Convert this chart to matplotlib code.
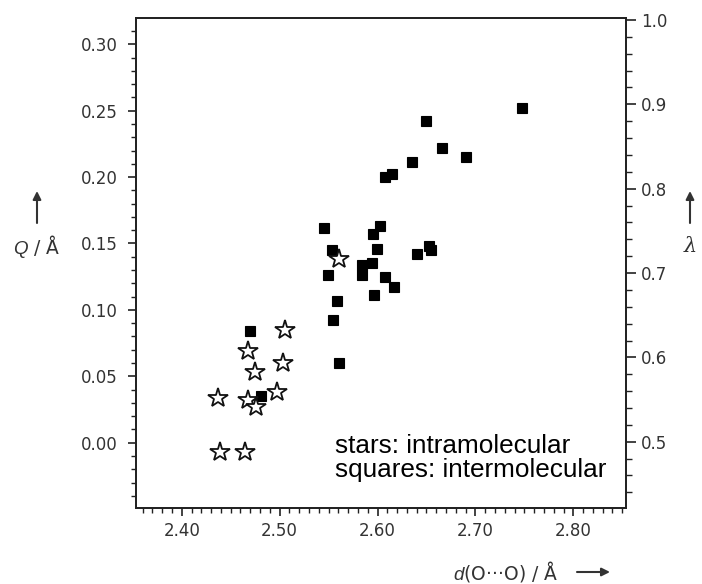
import matplotlib
matplotlib.use("Agg")
import matplotlib.pyplot as plt
from matplotlib.ticker import MultipleLocator, FixedLocator, FixedFormatter

plt.rcParams['font.family'] = ['DejaVu Sans']
plt.rcParams['mathtext.fontset'] = 'custom'
plt.rcParams['mathtext.rm'] = 'Liberation Sans'
plt.rcParams['mathtext.it'] = 'Liberation Sans:italic'

# intermolecular hydrogen bonds (squares)
square_d = [2.748, 2.650, 2.666, 2.690, 2.635, 2.615, 2.608, 2.640, 2.653, 2.655,
            2.545, 2.603, 2.595, 2.599, 2.554, 2.584, 2.594, 2.584, 2.549, 2.608,
            2.617, 2.596, 2.559, 2.555, 2.561, 2.470, 2.481]
square_q = [0.252, 0.242, 0.222, 0.215, 0.211, 0.202, 0.200, 0.142, 0.148, 0.145,
            0.162, 0.163, 0.157, 0.146, 0.145, 0.134, 0.135, 0.126, 0.126, 0.125,
            0.117, 0.111, 0.107, 0.092, 0.060, 0.084, 0.035]

# intramolecular hydrogen bonds (stars)
star_d = [2.561, 2.506, 2.468, 2.503, 2.475, 2.497, 2.437, 2.468, 2.476, 2.439, 2.465]
star_q = [0.138, 0.085, 0.069, 0.060, 0.053, 0.038, 0.034, 0.032, 0.027, -0.007, -0.007]

x_ticks = [2.40, 2.50, 2.60, 2.70, 2.80]
x_labels = ["2.40", "2.50", "2.60", "2.70", "2.80"]
q_ticks = [0.00, 0.05, 0.10, 0.15, 0.20, 0.25, 0.30]
q_labels = ["0.00", "0.05", "0.10", "0.15", "0.20", "0.25", "0.30"]
lam_ticks = [0.5, 0.6, 0.7, 0.8, 0.9, 1.0]
lam_labels = ["0.5", "0.6", "0.7", "0.8", "0.9", "1.0"]

W, H = 702, 584
fig = plt.figure(figsize=(W / 100, H / 100), dpi=100)
ax = fig.add_axes([136 / W, 1 - 508 / H, 490 / W, 490 / H])

tick_color = '#333333'

ax.plot(square_d, square_q, linestyle='none', marker='s', ms=7.2,
        mfc='black', mec='black', mew=0.8, zorder=3)
ax.plot(star_d, star_q, linestyle='none', marker='*', ms=14.5,
        mfc='white', mec='#111111', mew=1.3, zorder=4)

ax.set_xlim(2.3533, 2.8538)
ax.set_ylim(-0.0492, 0.3198)

ax.xaxis.set_major_locator(FixedLocator(x_ticks))
ax.xaxis.set_major_formatter(FixedFormatter(x_labels))
ax.xaxis.set_minor_locator(MultipleLocator(0.01))
ax.yaxis.set_major_locator(FixedLocator(q_ticks))
ax.yaxis.set_major_formatter(FixedFormatter(q_labels))
ax.yaxis.set_minor_locator(MultipleLocator(0.01))

ax.tick_params(axis='both', which='major', direction='out', length=6, width=1.2,
               labelsize=12, labelcolor=tick_color, color='#222222')
ax.tick_params(axis='both', which='minor', direction='out', length=3.6, width=1.0,
               color='#222222')
ax.tick_params(axis='y', which='major', pad=7)
ax.tick_params(axis='x', which='major', pad=4)
ax.tick_params(top=False, right=False, which='both')

for side in ['left', 'bottom', 'top', 'right']:
    ax.spines[side].set_linewidth(1.3)
    ax.spines[side].set_color('#222222')

# lambda scale on the right
ax2 = ax.twinx()
ax2.set_ylim(0.4214, 1.0024)
ax2.yaxis.set_major_locator(FixedLocator(lam_ticks))
ax2.yaxis.set_major_formatter(FixedFormatter(lam_labels))
ax2.yaxis.set_minor_locator(MultipleLocator(0.02))
ax2.tick_params(axis='y', which='major', direction='out', length=7, width=1.2,
                labelsize=12, labelcolor=tick_color, color='#222222', pad=4)
ax2.tick_params(axis='y', which='minor', direction='out', length=4, width=1.0,
                color='#222222')
for side in ['left', 'bottom', 'top', 'right']:
    ax2.spines[side].set_linewidth(1.3)
    ax2.spines[side].set_color('#222222')

ax.text(0.406, 0.102, "stars: intramolecular\nsquares: intermolecular",
        transform=ax.transAxes, ha='left', va='center', fontsize=18.8,
        family='Liberation Sans', linespacing=1.0, color='black', zorder=5)

def fx(px):
    return px / W

def fy(py):
    return 1 - py / H

arrow_props = dict(arrowstyle='-|>', lw=1.5, color='#333333', mutation_scale=12,
                   shrinkA=0, shrinkB=0)

# left axis label
fig.text(fx(37), fy(247), "$Q$ / Å", ha='center', va='center', fontsize=13.5,
         color='#333333')
ax.annotate('', xy=(fx(37), fy(191)), xytext=(fx(37), fy(223)),
            xycoords='figure fraction', textcoords='figure fraction',
            arrowprops=arrow_props)

# right axis label
fig.text(fx(690), fy(247), "λ", ha='center', va='center', fontsize=15,
         family='DejaVu Serif', style='italic', color='#333333')
ax.annotate('', xy=(fx(690), fy(191)), xytext=(fx(690), fy(223)),
            xycoords='figure fraction', textcoords='figure fraction',
            arrowprops=arrow_props)

# x axis label
fig.text(fx(453), fy(572), "$d$(O\u00b7\u00b7\u00b7O) / Å", ha='left', va='center',
         fontsize=13.5, color='#333333')
ax.annotate('', xy=(fx(610), fy(572)), xytext=(fx(577), fy(572)),
            xycoords='figure fraction', textcoords='figure fraction',
            arrowprops=arrow_props)

fig.savefig("out.png", dpi=100)
